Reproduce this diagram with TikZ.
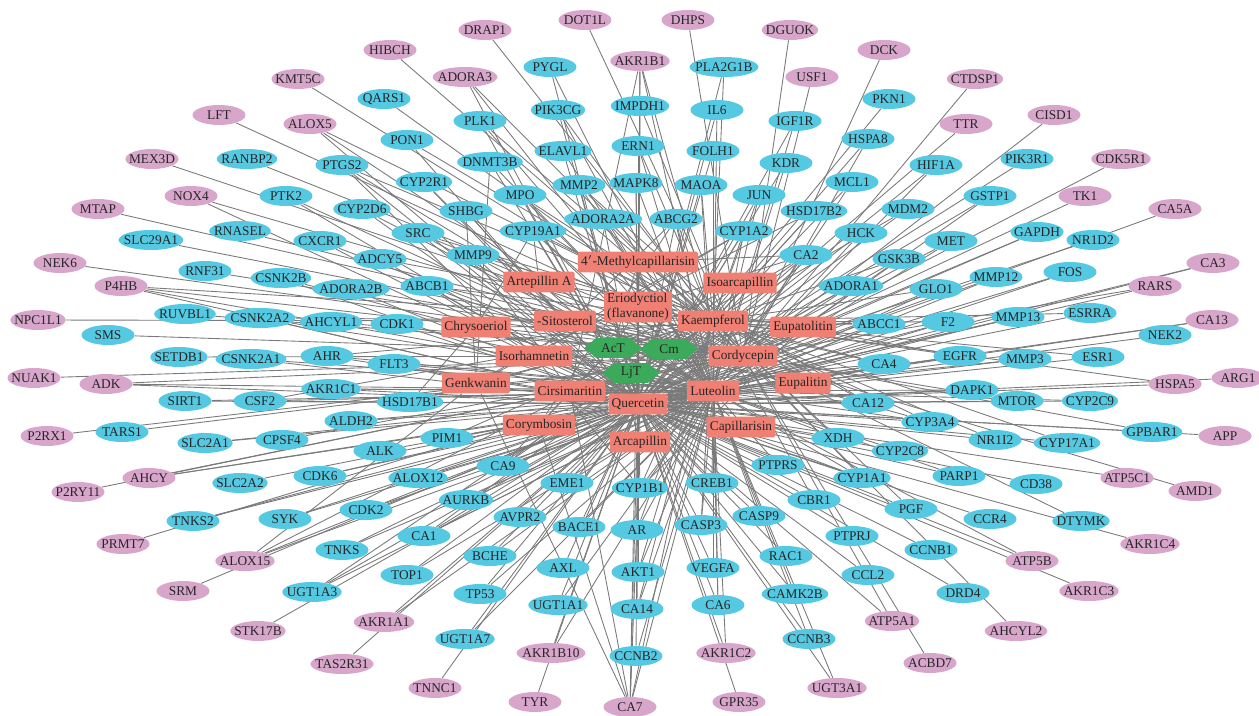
\documentclass[tikz,border=0pt]{standalone}
\usepackage{fontspec}
\setmainfont{Liberation Serif}
\usetikzlibrary{shapes.geometric,shapes.symbols}
\definecolor{tgcyan}{HTML}{55C8E2}
\definecolor{dspink}{HTML}{D8A6CB}
\definecolor{cpsalmon}{HTML}{F08074}
\definecolor{hbgreen}{HTML}{3BAA5A}
\definecolor{lnkgray}{HTML}{7A7A7A}
\pgfdeclarelayer{bg}
\pgfsetlayers{bg,main}

\begin{document}
\begin{tikzpicture}[x=0.02cm,y=-0.02cm,
    font=\fontsize{7.6}{8.6}\selectfont, text=black!85,
    tg/.style={ellipse, fill=tgcyan, inner xsep=-2.4pt, inner ysep=0pt,
               minimum width=1.06cm, minimum height=0.4cm},
    ds/.style={tg, fill=dspink},
    cp/.style={rectangle, fill=cpsalmon, rounded corners=1pt, inner xsep=1.8pt,
               inner ysep=1pt, minimum height=0.42cm},
    hb/.style={signal, signal to=east and west, signal pointer angle=80,
               fill=hbgreen, inner xsep=1pt, inner ysep=0pt,
               minimum width=1.15cm, minimum height=0.4cm},
    lnk/.style={lnkgray, line width=0.5pt}]
    \useasboundingbox (0,0) rectangle (1259,716);

    % Herbs
    \node[hb] (act) at (613,348) {AcT};
    \node[hb] (cm)  at (669,349) {Cm};
    \node[hb] (ljt) at (631,373) {LjT};

    % Compounds
    \node[cp] (mc)  at (638,262) {4$'$-Methylcapillarisin};
    \node[cp] (art) at (539,282) {Artepillin A};
    \node[cp] (iso) at (740,283) {Isoarcapillin};
    \node[cp, align=left] (eri) at (638,307) {Eriodyctiol\\(flavanone)};
    \node[cp] (sit) at (565,321) {-Sitosterol};
    \node[cp] (kae) at (713,321) {Kaempferol};
    \node[cp] (chr) at (476,327) {Chrysoeriol};
    \node[cp] (eup) at (803,327) {Eupatolitin};
    \node[cp] (cor) at (743,356) {Cordycepin};
    \node[cp] (isr) at (534,356) {Isorhamnetin};
    \node[cp] (gen) at (476,383) {Genkwanin};
    \node[cp] (cir) at (570,391) {Cirsimaritin};
    \node[cp] (lut) at (713,391) {Luteolin};
    \node[cp] (eul) at (803,383) {Eupalitin};
    \node[cp] (que) at (638,404) {Quercetin};
    \node[cp] (crb) at (539,425) {Corymbosin};
    \node[cp] (cap) at (741,427) {Capillarisin};
    \node[cp] (arc) at (640,442) {Arcapillin};

    % Shared targets
    \node[tg] (qars1) at (384,99) {QARS1};
    \node[tg] (pon1) at (407,140) {PON1};
    \node[tg] (ptgs2) at (342,165) {PTGS2};
    \node[tg] (ranbp2) at (247,159) {RANBP2};
    \node[tg] (ptk2) at (286,196) {PTK2};
    \node[tg] (cyp2r1) at (424,182) {CYP2R1};
    \node[tg] (plk1) at (480,121) {PLK1};
    \node[tg] (dnmt3b) at (490,162) {DNMT3B};
    \node[tg] (mpo) at (520,195) {MPO};
    \node[tg] (shbg) at (466,211) {SHBG};
    \node[tg] (cyp2d6) at (362,209) {CYP2D6};
    \node[tg] (src) at (418,233) {SRC};
    \node[tg] (rnasel) at (240,231) {RNASEL};
    \node[tg] (slc29a1) at (151,240) {SLC29A1};
    \node[tg] (cxcr1) at (320,241) {CXCR1};
    \node[tg] (adcy5) at (380,259) {ADCY5};
    \node[tg] (mmp9) at (473,255) {MMP9};
    \node[tg] (cyp19a1) at (533,231) {CYP19A1};
    \node[tg] (csnk2b) at (281,278) {CSNK2B};
    \node[tg] (rnf31) at (205,271) {RNF31};
    \node[tg] (adora2b) at (351,289) {ADORA2B};
    \node[tg] (abcb1) at (427,286) {ABCB1};
    \node[tg] (ruvbl1) at (185,314) {RUVBL1};
    \node[tg] (csnk2a2) at (260,318) {CSNK2A2};
    \node[tg] (ahcyl1) at (331,322) {AHCYL1};
    \node[tg] (cdk1) at (397,324) {CDK1};
    \node[tg] (sms) at (108,335) {SMS};
    \node[tg] (setdb1) at (179,357) {SETDB1};
    \node[tg] (csnk2a1) at (251,359) {CSNK2A1};
    \node[tg] (ahr) at (327,356) {AHR};
    \node[tg] (flt3) at (394,364) {FLT3};
    \node[tg] (akr1c1) at (331,389) {AKR1C1};
    \node[tg] (sirt1) at (185,401) {SIRT1};
    \node[tg] (csf2) at (260,401) {CSF2};
    \node[tg] (hsd17b1) at (410,402) {HSD17B1};
    \node[tg] (aldh2) at (351,421) {ALDH2};
    \node[tg] (tars1) at (122,432) {TARS1};
    \node[tg] (slc2a1) at (205,443) {SLC2A1};
    \node[tg] (cpsf4) at (282,440) {CPSF4};
    \node[tg] (pygl) at (550,67) {PYGL};
    \node[tg] (pik3cg) at (558,110) {PIK3CG};
    \node[tg] (impdh1) at (640,106) {IMPDH1};
    \node[tg] (elavl1) at (563,151) {ELAVL1};
    \node[tg] (ern1) at (638,146) {ERN1};
    \node[tg] (mmp2) at (579,185) {MMP2};
    \node[tg] (mapk8) at (636,183) {MAPK8};
    \node[tg] (adora2a) at (603,219) {ADORA2A};
    \node[tg] (abcg2) at (676,219) {ABCG2};
    \node[tg] (maoa) at (701,185) {MAOA};
    \node[tg] (il6) at (717,110) {IL6};
    \node[tg] (pla2g1b) at (724,67) {PLA2G1B};
    \node[tg] (folh1) at (713,151) {FOLH1};
    \node[tg] (igf1r) at (795,121) {IGF1R};
    \node[tg] (kdr) at (786,163) {KDR};
    \node[tg] (jun) at (759,195) {JUN};
    \node[tg] (cyp1a2) at (744,231) {CYP1A2};
    \node[tg] (pkn1) at (889,99) {PKN1};
    \node[tg] (hspa8) at (868,139) {HSPA8};
    \node[tg] (mcl1) at (852,182) {MCL1};
    \node[tg] (hsd17b2) at (814,211) {HSD17B2};
    \node[tg] (hck) at (861,233) {HCK};
    \node[tg] (hif1a) at (936,165) {HIF1A};
    \node[tg] (mdm2) at (908,209) {MDM2};
    \node[tg] (pik3r1) at (1027,159) {PIK3R1};
    \node[tg] (gstp1) at (990,196) {GSTP1};
    \node[tg] (gapdh) at (1037,232) {GAPDH};
    \node[tg] (met) at (951,241) {MET};
    \node[tg] (nr1d2) at (1093,240) {NR1D2};
    \node[tg] (ca2) at (806,255) {CA2};
    \node[tg] (gsk3b) at (899,259) {GSK3B};
    \node[tg] (adora1) at (851,286) {ADORA1};
    \node[tg] (glo1) at (936,289) {GLO1};
    \node[tg] (mmp12) at (996,277) {MMP12};
    \node[tg] (fos) at (1070,272) {FOS};
    \node[tg] (abcc1) at (879,324) {ABCC1};
    \node[tg] (f2) at (948,322) {F2};
    \node[tg] (mmp13) at (1018,317) {MMP13};
    \node[tg] (esrra) at (1090,313) {ESRRA};
    \node[tg] (nek2) at (1165,335) {NEK2};
    \node[tg] (egfr) at (960,356) {EGFR};
    \node[tg] (mmp3) at (1025,359) {MMP3};
    \node[tg] (esr1) at (1098,357) {ESR1};
    \node[tg] (ca4) at (884,364) {CA4};
    \node[tg] (dapk1) at (972,390) {DAPK1};
    \node[tg] (mtor) at (1017,401) {MTOR};
    \node[tg] (cyp2c9) at (1090,401) {CYP2C9};
    \node[tg] (ca12) at (868,403) {CA12};
    \node[tg] (cyp3a4) at (930,422) {CYP3A4};
    \node[tg] (nr1i2) at (995,440) {NR1I2};
    \node[tg] (cyp17a1) at (1067,443) {CYP17A1};
    \node[tg] (gpbar1) at (1152,432) {GPBAR1};
    \node[tg] (xdh) at (838,438) {XDH};
    \node[tg] (cyp2c8) at (900,451) {CYP2C8};
    \node[tg] (parp1) at (959,476) {PARP1};
    \node[tg] (cd38) at (1036,484) {CD38};
    \node[tg] (dtymk) at (1081,521) {DTYMK};
    \node[tg] (ccr4) at (990,519) {CCR4};
    \node[tg] (pgf) at (911,509) {PGF};
    \node[tg] (ccnb1) at (931,550) {CCNB1};
    \node[tg] (ptprs) at (778,465) {PTPRS};
    \node[tg] (cyp1a1) at (862,478) {CYP1A1};
    \node[tg] (cbr1) at (814,500) {CBR1};
    \node[tg] (ptprj) at (852,536) {PTPRJ};
    \node[tg] (casp9) at (759,516) {CASP9};
    \node[tg] (ccl2) at (868,575) {CCL2};
    \node[tg] (rac1) at (786,556) {RAC1};
    \node[tg] (camk2b) at (795,594) {CAMK2B};
    \node[tg] (drd4) at (963,593) {DRD4};
    \node[tg] (ccnb3) at (809,639) {CCNB3};
    \node[tg] (vegfa) at (713,568) {VEGFA};
    \node[tg] (ca6) at (718,605) {CA6};
    \node[tg] (casp3) at (701,525) {CASP3};
    \node[tg] (creb1) at (712,483) {CREB1};
    \node[tg] (cyp1b1) at (640,488) {CYP1B1};
    \node[tg] (ar) at (637,530) {AR};
    \node[tg] (akt1) at (638,572) {AKT1};
    \node[tg] (ca14) at (637,609) {CA14};
    \node[tg] (ccnb2) at (636,656) {CCNB2};
    \node[tg] (eme1) at (567,483) {EME1};
    \node[tg] (bace1) at (579,527) {BACE1};
    \node[tg] (axl) at (563,568) {AXL};
    \node[tg] (ugt1a1) at (558,605) {UGT1A1};
    \node[tg] (avpr2) at (520,517) {AVPR2};
    \node[tg] (bche) at (490,556) {BCHE};
    \node[tg] (tp53) at (480,594) {TP53};
    \node[tg] (ugt1a7) at (465,639) {UGT1A7};
    \node[tg] (ca9) at (503,466) {CA9};
    \node[tg] (aurkb) at (466,500) {AURKB};
    \node[tg] (ca1) at (424,536) {CA1};
    \node[tg] (top1) at (407,575) {TOP1};
    \node[tg] (cdk2) at (366,510) {CDK2};
    \node[tg] (tnks) at (342,550) {TNKS};
    \node[tg] (ugt1a3) at (312,592) {UGT1A3};
    \node[tg] (syk) at (285,519) {SYK};
    \node[tg] (cdk6) at (320,476) {CDK6};
    \node[tg] (alox12) at (418,478) {ALOX12};
    \node[tg] (pim1) at (447,438) {PIM1};
    \node[tg] (alk) at (380,451) {ALK};
    \node[tg] (slc2a2) at (240,483) {SLC2A2};
    \node[tg] (tnks2) at (193,521) {TNKS2};

    % Outer targets
    \node[ds] (drap1) at (485,30) {DRAP1};
    \node[ds] (dot1l) at (585,20) {DOT1L};
    \node[ds] (dhps) at (688,20) {DHPS};
    \node[ds] (dguok) at (790,30) {DGUOK};
    \node[ds] (hibch) at (390,50) {HIBCH};
    \node[ds] (akr1b1) at (640,61) {AKR1B1};
    \node[ds] (adora3) at (465,77) {ADORA3};
    \node[ds] (usf1) at (812,77) {USF1};
    \node[ds] (kmt5c) at (298,79) {KMT5C};
    \node[ds] (dck) at (884,50) {DCK};
    \node[ds] (ctdsp1) at (975,79) {CTDSP1};
    \node[ds] (lft) at (219,115) {LFT};
    \node[ds] (alox5) at (310,124) {ALOX5};
    \node[ds] (ttr) at (966,124) {TTR};
    \node[ds] (cisd1) at (1054,115) {CISD1};
    \node[ds] (mex3d) at (152,159) {MEX3D};
    \node[ds] (cdk5r1) at (1121,159) {CDK5R1};
    \node[ds] (nox4) at (191,196) {NOX4};
    \node[ds] (tk1) at (1085,196) {TK1};
    \node[ds] (mtap) at (98,209) {MTAP};
    \node[ds] (ca5a) at (1175,209) {CA5A};
    \node[ds] (nek6) at (60,263) {NEK6};
    \node[ds] (ca3) at (1213,263) {CA3};
    \node[ds] (p4hb) at (121,286) {P4HB};
    \node[ds] (rars) at (1155,286) {RARS};
    \node[ds] (npc1l1) at (38,320) {NPC1L1};
    \node[ds] (ca13) at (1212,320) {CA13};
    \node[ds] (nuak1) at (34,378) {NUAK1};
    \node[ds] (adk) at (106,384) {ADK};
    \node[ds] (hspa5) at (1175,384) {HSPA5};
    \node[ds] (arg1) at (1238,378) {ARG1};
    \node[ds] (p2rx1) at (47,436) {P2RX1};
    \node[ds] (app) at (1225,436) {APP};
    \node[ds] (ahcy) at (149,478) {AHCY};
    \node[ds] (p2ry11) at (78,492) {P2RY11};
    \node[ds] (atp5c1) at (1127,478) {ATP5C1};
    \node[ds] (amd1) at (1195,491) {AMD1};
    \node[ds] (prmt7) at (123,544) {PRMT7};
    \node[ds] (akr1c4) at (1150,544) {AKR1C4};
    \node[ds] (alox15) at (245,561) {ALOX15};
    \node[ds] (atp5b) at (1032,561) {ATP5B};
    \node[ds] (akr1c3) at (1089,591) {AKR1C3};
    \node[ds] (srm) at (183,591) {SRM};
    \node[ds] (stk17b) at (258,631) {STK17B};
    \node[ds] (akr1a1) at (384,622) {AKR1A1};
    \node[ds] (atp5a1) at (892,621) {ATP5A1};
    \node[ds] (ahcyl2) at (1016,631) {AHCYL2};
    \node[ds] (acbd7) at (930,663) {ACBD7};
    \node[ds] (tas2r31) at (342,664) {TAS2R31};
    \node[ds] (akr1b10) at (551,653) {AKR1B10};
    \node[ds] (akr1c2) at (726,653) {AKR1C2};
    \node[ds] (ugt3a1) at (837,688) {UGT3A1};
    \node[ds] (tnnc1) at (435,688) {TNNC1};
    \node[ds] (tyr) at (535,702) {TYR};
    \node[ds] (ca7) at (630,707) {CA7};
    \node[ds] (gpr35) at (739,702) {GPR35};

    % Links
    \begin{pgfonlayer}{bg}
    \foreach \h/\cl in {act/{mc,art,iso,eri,chr,eup,isr,gen,cir,eul,que,crb,cap,arc,kae},
        cm/{cor,sit,que}, ljt/{lut,que,kae,isr,chr}}
        {\foreach \c in \cl {\draw[lnk] (\h) -- (\c);}}
    \foreach \t/\cl in {
        qars1/{cor}, pon1/{que,kae}, ptgs2/{que,lut,kae,isr}, ranbp2/{cor},
        ptk2/{que,lut}, cyp2r1/{que,sit}, plk1/{que,lut,kae}, dnmt3b/{que,lut,gen},
        mpo/{que,lut,kae}, shbg/{que,sit,gen}, cyp2d6/{que,lut}, src/{que,lut,kae,art},
        rnasel/{cor}, slc29a1/{cor}, cxcr1/{que,lut}, adcy5/{que,kae},
        mmp9/{que,lut,kae,cir}, cyp19a1/{que,lut,kae,art,chr,cap}, csnk2b/{que,lut},
        rnf31/{cor}, adora2b/{que,cor}, abcb1/{que,kae,lut,isr}, ruvbl1/{cor},
        csnk2a2/{que,lut,kae}, ahcyl1/{cor}, cdk1/{que,lut}, sms/{cor}, setdb1/{cor},
        csnk2a1/{que,lut}, ahr/{que,lut,kae}, flt3/{que,lut,gen}, akr1c1/{que,lut,cir},
        sirt1/{que,lut}, csf2/{que,lut,kae}, hsd17b1/{que,kae,gen,chr}, aldh2/{que,lut},
        tars1/{cor}, slc2a1/{que,lut}, cpsf4/{cor},
        pygl/{que,lut}, pik3cg/{que,lut,kae}, impdh1/{cor,que}, elavl1/{que,lut},
        ern1/{que,lut,kae}, mmp2/{que,lut,kae,eul}, mapk8/{que,lut,arc}, adora2a/{que,cor,lut},
        abcg2/{que,lut,kae,isr,crb}, maoa/{que,lut,kae}, il6/{que,lut}, pla2g1b/{que,kae},
        folh1/{que,lut,kae}, igf1r/{que,lut}, kdr/{que,lut}, jun/{que,lut,kae},
        cyp1a2/{que,lut,kae,isr,gen}, pkn1/{que}, hspa8/{que,cor}, mcl1/{que,lut},
        hsd17b2/{que,kae,gen}, hck/{que,lut}, hif1a/{que,lut}, mdm2/{que,kae},
        pik3r1/{que}, gstp1/{que,lut}, gapdh/{que,cor}, met/{que,lut}, nr1d2/{cor},
        ca2/{que,lut,kae,eri,cir,mc}, gsk3b/{que,lut,kae}, adora1/{cor,que},
        glo1/{que,lut,kae}, mmp12/{que,lut}, fos/{que,lut}, abcc1/{que,lut,kae,chr},
        f2/{que,lut,kae}, mmp13/{que,lut}, esrra/{que,kae}, nek2/{que}, egfr/{que,lut,kae,art},
        mmp3/{que,lut}, esr1/{que,kae}, ca4/{que,lut,kae,cir,eri}, dapk1/{que,lut},
        mtor/{que,cor}, cyp2c9/{que,lut}, ca12/{que,lut,kae,cir,mc}, cyp3a4/{que,kae,lut,sit},
        nr1i2/{que,kae}, cyp17a1/{que,kae}, gpbar1/{que,sit}, xdh/{que,lut,kae},
        cyp2c8/{que,lut}, parp1/{que,lut}, cd38/{que}, dtymk/{cor}, ccr4/{que},
        pgf/{que,kae}, ccnb1/{que}, ptprs/{que,lut}, cyp1a1/{que,lut,kae,isr},
        cbr1/{que,kae}, ptprj/{que}, casp9/{que,lut}, ccl2/{que}, rac1/{que},
        camk2b/{que,lut}, drd4/{que}, ccnb3/{que,lut}, vegfa/{que,lut}, ca6/{que,lut,kae},
        casp3/{que,lut,kae}, creb1/{que,lut}, cyp1b1/{que,lut,kae,isr,eup},
        ar/{que,lut,kae,mc}, akt1/{que,lut,kae}, ca14/{que,lut,kae}, ccnb2/{que,lut},
        eme1/{que,lut}, bace1/{que,lut}, axl/{que}, ugt1a1/{que,lut}, avpr2/{que},
        bche/{que,lut}, tp53/{que,lut}, ugt1a7/{que,lut}, ca9/{que,lut,kae,cir,iso},
        aurkb/{que,lut}, ca1/{que,lut,kae}, top1/{que,lut}, cdk2/{que,lut}, tnks/{que,lut},
        ugt1a3/{que,lut,kae}, syk/{que,lut}, cdk6/{que,lut}, alox12/{que,lut},
        pim1/{que,lut,kae}, alk/{que}, slc2a2/{que}, tnks2/{que,lut},
        drap1/{cor}, dot1l/{cor}, dhps/{cor}, dguok/{cor}, hibch/{cor},
        akr1b1/{que,lut,kae,eri,cir}, adora3/{cor,que,lut}, usf1/{cor}, kmt5c/{cor},
        dck/{cor}, ctdsp1/{cor}, lft/{cor}, alox5/{que,lut,kae}, ttr/{que}, cisd1/{cor},
        mex3d/{cor}, cdk5r1/{cor}, nox4/{cor,que}, tk1/{cor}, mtap/{cor}, ca5a/{que},
        nek6/{cor}, ca3/{que,lut}, p4hb/{que,lut,kae,cor}, rars/{cor,que}, npc1l1/{sit},
        ca13/{que,lut}, nuak1/{cor}, adk/{cor,que,lut}, hspa5/{que,kae}, arg1/{que},
        p2rx1/{cor}, app/{que}, ahcy/{cor,que,lut}, p2ry11/{cor}, atp5c1/{que},
        amd1/{cor}, prmt7/{cor}, akr1c4/{que}, alox15/{que,lut,kae,gen}, atp5b/{que,lut},
        akr1c3/{que}, srm/{cor}, stk17b/{cor}, akr1a1/{que,lut}, atp5a1/{que,cor},
        ahcyl2/{cor}, acbd7/{cor}, tas2r31/{que}, akr1b10/{que,lut}, akr1c2/{que,lut},
        ugt3a1/{que,lut}, tnnc1/{que}, tyr/{que}, ca7/{que,lut,kae,cir,gen,eri,arc,crb},
        gpr35/{que}}
        {\foreach \c in \cl {\draw[lnk] (\t) -- (\c);}}
    \end{pgfonlayer}
\end{tikzpicture}
\end{document}
